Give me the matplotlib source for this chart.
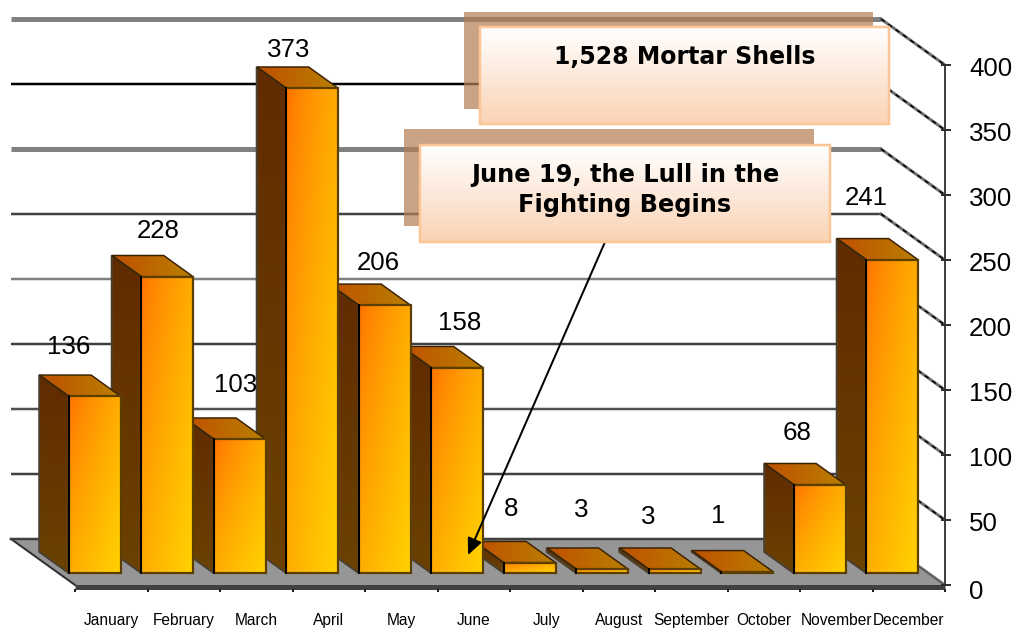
import numpy as np
import matplotlib
matplotlib.use('Agg')
import matplotlib.pyplot as plt
from matplotlib.colors import LinearSegmentedColormap
from matplotlib.patches import Polygon, Rectangle

plt.rcParams['font.family'] = ['Liberation Sans', 'DejaVu Sans']

months = ['January', 'February', 'March', 'April', 'May', 'June', 'July',
          'August', 'September', 'October', 'November', 'December']
shells = [136, 228, 103, 373, 206, 158, 8, 3, 3, 1, 68, 241]
y_ticks = [0, 50, 100, 150, 200, 250, 300, 350, 400]

# gridline looks, one per tick from 50 up
grid_colors = ['#404040', '#505050', '#404040', '#808080', '#404040', '#808080', '#000000', '#808080']
grid_widths = [2.5, 2.5, 2.5, 2.5, 2.5, 5, 2.5, 5]

# the data labels are not placed evenly in the original (pixels from bar top)
label_dx = [-26, -9, -4, -23, -6, 3, -19, -21, -26, -29, -23, -26]
label_dy = [49, 46, 54, 38, 42, 45, 54, 59, 52, 56, 52, 62]

W, H = 1017, 628
X0, SLOT = 75, 72.5
Y0, SCALE = 585, 1.3
DX, DY = 64 / SLOT, 46 / SCALE
FRONT, BACK = 0.26, 0.72
HALF = 0.358
PX = 72 / 100


def pr(cat, val, depth=0):
    return (cat - DX * depth, val + DY * depth)


def gradient(a, c1, c2, extent, mode, clip=None, z=1):
    cmap = LinearSegmentedColormap.from_list('g', [c1, c2])
    xx, yy = np.meshgrid(np.linspace(0, 1, 64), np.linspace(0, 1, 64))
    t = {'diag': ((xx + yy) / 2) ** 0.7, 'h': xx, 'v': yy}[mode]
    im = a.imshow(t, cmap=cmap, vmin=0, vmax=1, extent=extent, origin='upper',
                  aspect='auto', interpolation='bilinear', zorder=z)
    if clip is not None:
        clip.set_transform(a.transData)
        im.set_clip_path(clip)
    return im


fig = plt.figure(figsize=(W / 100, H / 100), dpi=100)
ax = fig.add_axes([0, 0, 1, 1])
ax.axis('off')
xlim = (-X0 / SLOT, (W - X0) / SLOT)
ylim = ((Y0 - H) / SCALE, Y0 / SCALE)

# floor
floor = [pr(0, 0, 1), pr(12, 0, 1), pr(12, 0), pr(0, 0)]
ax.add_patch(Polygon(floor, closed=True, fc='#969696', ec='none', zorder=1))
ax.plot(*zip(pr(0, 0, 0), pr(0, 0, 1)), color='#303030', lw=2 * PX, zorder=2)
ax.plot(*zip(pr(0, 0, 1), pr(12, 0, 1)), color='#404040', lw=2.5 * PX, zorder=2)
ax.plot([0, 12], [-1.5, -1.5], color='#404040', lw=5 * PX, zorder=2, solid_capstyle='butt')
ax.plot(*zip(pr(12, 0, 1), pr(12, 0)), color='#606060', lw=2.5 * PX, zorder=2)

# gridlines on the back wall and the side wall connectors
for v, c, w in zip(y_ticks[1:], grid_colors, grid_widths):
    ax.plot(*zip(pr(0, v, 1), pr(12, v, 1)), color=c, lw=w * PX, zorder=2, solid_capstyle='butt')
    ax.plot(*zip(pr(12, v, 1), pr(12, v)), color='#707070', lw=3 * PX, zorder=2)
    ax.plot(*zip(pr(12, v, 1), pr(12, v)), color='#000000', lw=1.5 * PX, zorder=2,
            linestyle=(0, (3, 3)))

# right axis
ax.plot([12, 12], [0, 400], color='#404040', lw=2 * PX, zorder=2)
for v in y_ticks:
    ax.plot([12 - 3 / SLOT, 12 + 5 / SLOT], [v, v], color='#303030', lw=2 * PX, zorder=2)
    ax.annotate(str(v), (12, v), xytext=(24, -4 if v else -7), textcoords='offset pixels',
                fontsize=18.6, va='center', ha='left', color='black', zorder=20)

# category ticks and names
for i in range(13):
    ax.plot([i, i], [-3, -5.0], color='#202020', lw=2 * PX, zorder=2, solid_capstyle='butt')
for i, m in enumerate(months):
    ax.text(i + 0.5, -27.6, m, fontsize=11.2, ha='center', va='center', color='black', zorder=20)

# bars, right to left so each front face covers the next bar's side
for i in range(11, -1, -1):
    v = shells[i]
    z = 3 + (11 - i) * 0.5
    l, r = i + 0.5 - HALF, i + 0.5 + HALF
    fl, fb = pr(l, 0, FRONT), pr(l, v, FRONT)
    fr, ft = pr(r, 0, FRONT), pr(r, v, FRONT)
    bl, bb = pr(l, 0, BACK), pr(l, v, BACK)
    br = pr(r, v, BACK)

    # left side
    side = [fl, fb, bb, bl]
    xs = [p[0] for p in side]
    ys = [p[1] for p in side]
    gradient(ax, '#612B00', '#6B4200', (min(xs), max(xs), min(ys), max(ys)), 'v',
             Polygon(side, closed=True), z)
    ax.add_patch(Polygon(side, closed=True, fc='none', ec='#4a4030', lw=2 * PX, zorder=z + 0.1))

    # top
    top = [fb, ft, br, bb]
    xs = [p[0] for p in top]
    ys = [p[1] for p in top]
    gradient(ax, '#C05000', '#B88000', (min(xs), max(xs), min(ys), max(ys)), 'h',
             Polygon(top, closed=True), z)
    ax.add_patch(Polygon(top, closed=True, fc='none', ec='#3d2200', lw=1.5 * PX, zorder=z + 0.1))

    # front
    gradient(ax, '#FF6E00', '#FFD200', (fl[0], fr[0], fl[1], fb[1]), 'diag', None, z + 0.2)
    ax.add_patch(Rectangle(fl, fr[0] - fl[0], v, fc='none', ec='#5c3f00', lw=2.2 * PX, zorder=z + 0.3))
    ax.plot([fl[0], fb[0]], [fl[1], fb[1]], color='#000000', lw=2 * PX, zorder=z + 0.3)

    ax.annotate(str(v), (i + 0.5 - DX * FRONT, v + DY * FRONT), xytext=(label_dx[i], label_dy[i]),
                textcoords='offset pixels', fontsize=18.6, ha='center', va='center',
                color='black', zorder=20)

ax.set_xlim(*xlim)
ax.set_ylim(*ylim)

# callouts sit on a second axes in pixel units
ov = fig.add_axes([0, 0, 1, 1])
ov.axis('off')
ov.patch.set_alpha(0)


def callout(x0, y0, x1, y1, sx, sy, text, ty, size):
    ov.add_patch(Rectangle((x0 - sx, y0 - sy), x1 - x0, y1 - y0, fc='#B67E55', ec='none',
                           alpha=0.72, zorder=30))
    gradient(ov, '#FFFFFF', '#FAD3B5', (x0, x1, y1, y0), 'v', None, 31)
    ov.add_patch(Rectangle((x0, y0), x1 - x0, y1 - y0, fc='none', ec='#FCC596', lw=2.5 * PX, zorder=32))
    ov.text((x0 + x1) / 2, ty, text, fontsize=size, fontweight='bold', family='DejaVu Sans',
            ha='center', va='center', linespacing=1.32, color='black', zorder=33)


ov.annotate('', xy=(468, 555), xytext=(605, 242),
            arrowprops=dict(arrowstyle='-|>,head_width=0.45,head_length=1.0', color='black',
                            lw=2 * PX, shrinkA=0, shrinkB=0), zorder=29)
callout(480, 27, 889, 124, 16, 15, '1,528 Mortar Shells', 57, 17)
callout(420, 145, 830, 242, 16, 16, 'June 19, the Lull in the\nFighting Begins', 190, 17.3)

ov.set_xlim(0, W)
ov.set_ylim(H, 0)

fig.savefig('out.png', dpi=100)
